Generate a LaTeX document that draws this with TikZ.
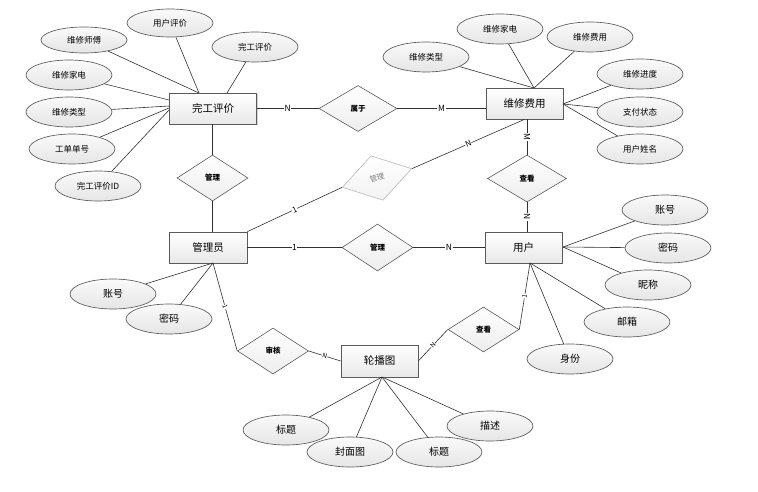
\documentclass[tikz,border=0pt]{standalone}
\usepackage{fontspec}
\setmainfont{Noto Sans CJK SC}
\usetikzlibrary{shapes.geometric,shadows}
\definecolor{lncol}{HTML}{303030}
\definecolor{bdcol}{HTML}{5A5A5A}
\definecolor{shcol}{HTML}{B0B0B0}
\begin{document}
\begin{tikzpicture}[x=1pt,y=-1pt,
  ent/.style={rectangle,draw=bdcol,line width=0.7pt,top color=white,bottom color=gray!18,
    minimum width=78pt,minimum height=31pt,inner sep=0pt,font=\fontsize{10.5}{12}\selectfont,
    drop shadow={shadow xshift=1pt,shadow yshift=-1pt,fill=shcol,opacity=0.6}},
  rel/.style={diamond,draw=bdcol,line width=0.6pt,top color=white,bottom color=gray!14,
    minimum width=71pt,minimum height=46pt,inner sep=0pt,font=\fontsize{7.5}{8}\selectfont\bfseries},
  relg/.style={diamond,draw=gray!55,line width=0.6pt,top color=white,bottom color=gray!10,
    minimum width=72pt,minimum height=46pt,inner sep=0pt,text=gray,font=\fontsize{7.5}{8}\selectfont},
  att/.style={ellipse,draw=bdcol,line width=0.65pt,top color=gray!4,bottom color=gray!20,
    minimum width=86pt,minimum height=30pt,inner sep=0pt,font=\fontsize{10}{11}\selectfont},
  atts/.style={att,font=\fontsize{8.5}{10}\selectfont},
  ln/.style={draw=lncol,line width=0.6pt},
  lab/.style={fill=white,inner sep=0.6pt,font=\fontsize{8.5}{9}\selectfont},
  labm/.style={fill=white,inner sep=0.5pt,sloped,font=\fontsize{8}{9}\selectfont},
  labs/.style={fill=white,inner sep=0.4pt,sloped,font=\fontsize{6.5}{7}\selectfont}
]
\useasboundingbox (0,0) rectangle (758,492);

% entities
\node[ent,minimum width=87pt] (wg) at (213,108.5) {完工评价};
\node[ent,minimum width=77pt] (wf) at (524.5,103.5) {维修费用};
\node[ent] (gly) at (208,247.5) {管理员};
\node[ent,minimum width=77pt] (yh) at (523.5,247.5) {用户};
\node[ent,minimum width=77pt,minimum height=32pt] (lbt) at (379.5,361) {轮播图};

% relationships
\node[rel,minimum width=78pt] (sy) at (358,108.5) {属于};
\node[rel] (gl1) at (212.5,178) {管理};
\node[relg,rotate=15] (gl2) at (377,178) {管理};
\node[rel,minimum height=47pt] (gl3) at (377.5,247.5) {管理};
\node[rel,minimum width=79pt,minimum height=47pt] (ck1) at (527,178.5) {查看};
\node[rel] (sh) at (273,351) {审核};
\node[rel,minimum height=45pt] (ck2) at (483.5,329.5) {查看};

% attributes of 完工评价
\node[atts,minimum height=26pt] (a1) at (84,40) {维修师傅};
\node[atts,minimum height=28pt] (a2) at (170,23) {用户评价};
\node[atts] (a3) at (255,47) {完工评价};
\node[atts] (a4) at (69,75) {维修家电};
\node[atts] (a5) at (69,112) {维修类型};
\node[atts] (a6) at (72,149) {工单单号};
\node[atts] (a7) at (98,186) {完工评价ID};
% attributes of 维修费用
\node[atts] (b1) at (426,57) {维修类型};
\node[atts] (b2) at (500,29) {维修家电};
\node[atts] (b3) at (590,37) {维修费用};
\node[atts] (b4) at (640,74) {维修进度};
\node[atts] (b5) at (640,112) {支付状态};
\node[atts] (b6) at (640,149) {用户姓名};
% attributes of 用户
\node[att] (c1) at (665,210) {账号};
\node[att] (c2) at (668,248) {密码};
\node[att] (c3) at (648,285) {昵称};
\node[att] (c4) at (627,322) {邮箱};
\node[att] (c5) at (570,359) {身份};
% attributes of 管理员
\node[att] (d1) at (113,294) {账号};
\node[att] (d2) at (169,319) {密码};
% attributes of 轮播图
\node[att] (e1) at (286,430) {标题};
\node[att] (e2) at (350,452) {封面图};
\node[att] (e3) at (439,452) {标题};
\node[att] (e4) at (490,426) {描述};

% convergence points
\coordinate (wgT) at (199,93);
\coordinate (wgT2) at (227,93);
\coordinate (wgL1) at (169,100);
\coordinate (wgL2) at (169,106);
\coordinate (wgL3) at (169,108);
\coordinate (wgL4) at (169,110);
\coordinate (wfT) at (534,88);
\coordinate (wfR) at (563,104);
\coordinate (yhR) at (563,247);
\coordinate (yhB) at (530,263);
\coordinate (glyB) at (213,263);
\coordinate (lbtB) at (382,377);

% attribute lines
\draw[ln] (a1) -- (wgT);
\draw[ln] (a2) -- (wgT);
\draw[ln] (a3) -- (wgT2);
\draw[ln] (a4) -- (wgL1);
\draw[ln] (a5) -- (wgL2);
\draw[ln] (a6) -- (wgL3);
\draw[ln] (a7) -- (wgL4);
\draw[ln] (b1) -- (wfT);
\draw[ln] (b2) -- (wfT);
\draw[ln] (b3) -- (wfT);
\draw[ln] (b4) -- (wfR);
\draw[ln] (b5) -- (wfR);
\draw[ln] (b6) -- (wfR);
\draw[ln] (c1) -- (yhR);
\draw[ln] (c2) -- (yhR);
\draw[ln] (c3) -- (yhR);
\draw[ln] (c4) -- (yhB);
\draw[ln] (c5) -- (yhB);
\draw[ln] (d1) -- (glyB);
\draw[ln] (d2) -- (glyB);
\draw[ln] (e1) -- (lbtB);
\draw[ln] (e2) -- (lbtB);
\draw[ln] (e3) -- (lbtB);
\draw[ln] (e4) -- (lbtB);

% relationship lines
\draw[ln] (wg.east) -- node[lab]{N} (sy.west);
\draw[ln] (sy.east) -- node[lab]{M} (sy.east -| wf.west);
\draw[ln] (gl1.north) -- (gl1.north |- wg.south);
\draw[ln] (gl1.south) -- (gl1.south |- gly.north);
\draw[ln] (gly.north east) -- node[labm]{1} (gl2.west);
\draw[ln] (gl2.east) -- node[labm]{N} (wf.south);
\draw[ln] (gly.east) -- node[lab]{1} (gl3.west);
\draw[ln] (gl3.east) -- node[lab]{N} (yh.west);
\draw[ln] (ck1.north) -- node[lab,rotate=-90]{M} (ck1.north |- wf.south);
\draw[ln] (ck1.south) -- node[lab,rotate=-90]{N} (ck1.south |- yh.north);
\draw[ln] (glyB) -- node[labs]{1} (sh.west);
\draw[ln] (sh.east) -- node[labs]{N} (lbt.west);
\draw[ln] (lbt.east) -- node[labs]{N} (ck2.west);
\draw[ln] (ck2.east) -- node[labs]{1} (yhB);
\end{tikzpicture}
\end{document}
